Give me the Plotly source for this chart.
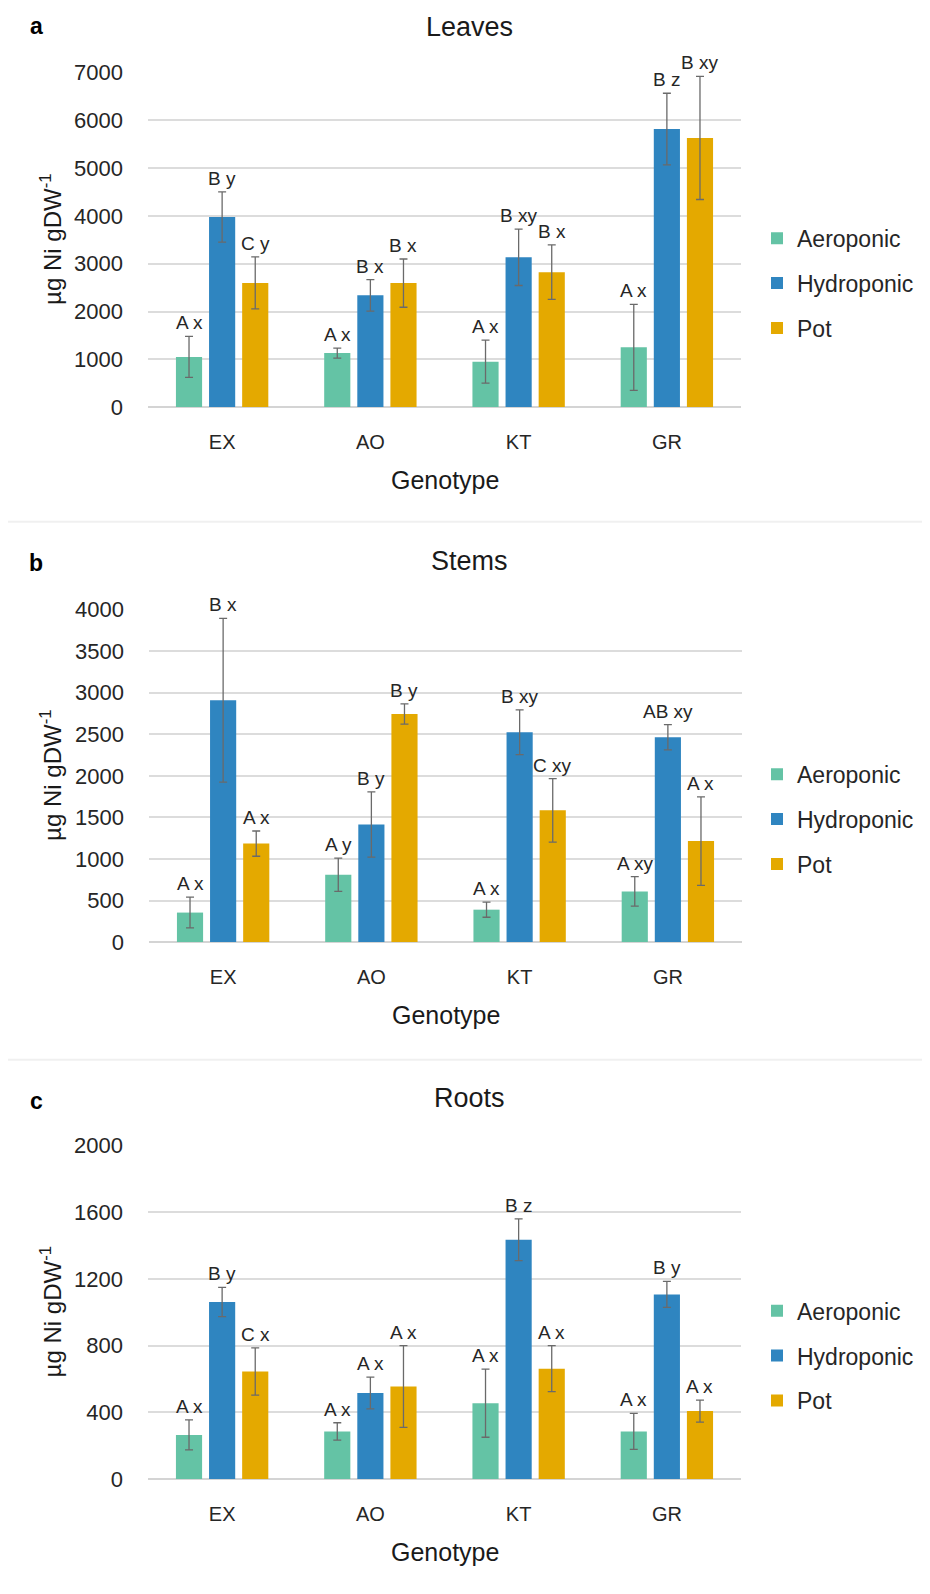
import plotly.graph_objects as go

# page is 930x1594; the html body has an 8px margin, so the figure is sized to fit inside it
PAGE_W, PAGE_H = 930, 1594
OFF_X = 8
W, H = 914, 1578
# measured vertical mapping of figure pixels onto the photographed page
Y0, YS = 18.2, 0.986

genotypes = ["EX", "AO", "KT", "GR"]
treatments = ["Aeroponic", "Hydroponic", "Pot"]
colors = ["#64c3a5", "#2f85c0", "#e4a900"]

# ---- Leaves (µg Ni gDW-1) ----
leaves_aero = [1050, 1130, 950, 1250]
leaves_aero_err = [430, 105, 450, 900]
leaves_hydro = [3980, 2340, 3135, 5820]
leaves_hydro_err = [525, 330, 590, 750]
leaves_pot = [2600, 2595, 2825, 5635]
leaves_pot_err = [545, 505, 570, 1290]
leaves_lab_aero = ["A x", "A x", "A x", "A x"]
leaves_lab_hydro = ["B y", "B x", "B xy", "B z"]
leaves_lab_pot = ["C y", "B x", "B x", "B xy"]

# ---- Stems ----
stems_aero = [355, 810, 390, 610]
stems_aero_err = [185, 200, 91, 178]
stems_hydro = [2910, 1415, 2525, 2465]
stems_hydro_err = [985, 393, 270, 152]
stems_pot = [1185, 2745, 1585, 1215]
stems_pot_err = [152, 122, 383, 533]
stems_lab_aero = ["A x", "A y", "A x", "A xy"]
stems_lab_hydro = ["B x", "B y", "B xy", "AB xy"]
stems_lab_pot = ["A x", "B y", "C xy", "A x"]

# ---- Roots ----
roots_aero = [265, 286, 455, 286]
roots_aero_err = [90, 52, 204, 108]
roots_hydro = [1062, 516, 1436, 1108]
roots_hydro_err = [88, 95, 125, 78]
roots_pot = [645, 555, 662, 408]
roots_pot_err = [142, 245, 138, 66]
roots_lab_aero = ["A x", "A x", "A x", "A x"]
roots_lab_hydro = ["B y", "A x", "B z", "B y"]
roots_lab_pot = ["C x", "A x", "A x", "A x"]

panels = [
    dict(title="Leaves", letter="a",
         vals=[leaves_aero, leaves_hydro, leaves_pot],
         errs=[leaves_aero_err, leaves_hydro_err, leaves_pot_err],
         labs=[leaves_lab_aero, leaves_lab_hydro, leaves_lab_pot],
         yrange=[0, 7000], dtick=1000,
         px_x=(148, 741), px_y=(71, 406), title_y=25, letter_y=24),
    dict(title="Stems", letter="b",
         vals=[stems_aero, stems_hydro, stems_pot],
         errs=[stems_aero_err, stems_hydro_err, stems_pot_err],
         labs=[stems_lab_aero, stems_lab_hydro, stems_lab_pot],
         yrange=[0, 4000], dtick=500,
         px_x=(149, 742), px_y=(609, 942), title_y=560, letter_y=562),
    dict(title="Roots", letter="c",
         vals=[roots_aero, roots_hydro, roots_pot],
         errs=[roots_aero_err, roots_hydro_err, roots_pot_err],
         labs=[roots_lab_aero, roots_lab_hydro, roots_lab_pot],
         yrange=[0, 2000], dtick=400,
         px_x=(148, 741), px_y=(1146, 1480), title_y=1098, letter_y=1101),
]

FONT = "Liberation Sans, Arial, sans-serif"
BARGAP = 0.33
BARGROUPGAP = 0.21


def px(x):
    return (x - OFF_X) / W


def fy(y):
    return (y - Y0) / YS


def py(y):
    return 1 - fy(y) / H


fig = go.Figure()
annotations = []
shapes = []
layout = {}

for i, p in enumerate(panels):
    n = "" if i == 0 else str(i + 1)
    xa, ya = "x" + n, "y" + n
    leg = "legend" + n
    for k, t in enumerate(treatments):
        fig.add_trace(go.Bar(
            x=genotypes, y=p["vals"][k], name=t,
            marker=dict(color=colors[k], line=dict(width=0)),
            error_y=dict(type="data", array=p["errs"][k], visible=True,
                         color="#6a6a6a", thickness=1.3, width=4),
            xaxis=xa, yaxis=ya, legend=leg, legendgroup=t + n,
            showlegend=True,
        ))
    x0, x1 = p["px_x"]
    ytop, ybot = p["px_y"]
    layout["xaxis" + n] = dict(
        domain=[px(x0), px(x1)], anchor=ya, showgrid=False, showline=False,
        zeroline=False, ticks="", tickfont=dict(family=FONT, size=20, color="#262626"),
        ticklabelstandoff=21, fixedrange=True,
    )
    layout["yaxis" + n] = dict(
        domain=[py(ybot), py(ytop)], anchor=xa, range=p["yrange"], dtick=p["dtick"],
        showgrid=True, gridcolor="#dcdcdc", gridwidth=1.5, zeroline=True,
        zerolinecolor="#d4d4d4", zerolinewidth=1.8, showline=False, ticks="",
        tickfont=dict(family=FONT, size=22, color="#262626"),
        ticklabelstandoff=24, fixedrange=True,
    )
    center = (ytop + ybot) / 2
    layout[leg] = dict(
        x=px(757), xanchor="left", y=1 - (fy(center) - 23.5) / H, yanchor="top",
        font=dict(family=FONT, size=23, color="#262626"),
        tracegroupgap=12, traceorder="grouped", bgcolor="rgba(0,0,0,0)",
    )
    # significance letters above error bars
    catw = (x1 - x0) / len(genotypes)
    slot = catw * (1 - BARGAP) / len(treatments)
    for k in range(len(treatments)):
        for j, g in enumerate(genotypes):
            annotations.append(dict(
                x=g, y=p["vals"][k][j] + p["errs"][k][j], xref=xa, yref=ya,
                text=p["labs"][k][j], showarrow=False, yanchor="bottom",
                xshift=(k - 1) * slot, yshift=1,
                font=dict(family=FONT, size=19, color="#262626"),
            ))
    # title, letter, axis titles
    annotations.append(dict(x=px(469), y=py(p["title_y"]), xref="paper", yref="paper",
                            text=p["title"], showarrow=False, xanchor="center", yanchor="middle",
                            font=dict(family=FONT, size=27, color="#1a1a1a")))
    annotations.append(dict(x=px(36), y=py(p["letter_y"]), xref="paper", yref="paper",
                            text="<b>" + p["letter"] + "</b>", showarrow=False,
                            xanchor="center", yanchor="middle",
                            font=dict(family=FONT, size=23, color="#000000")))
    annotations.append(dict(x=px(51), y=py(center), xref="paper", yref="paper",
                            text="µg Ni gDW<sup>-1</sup>", textangle=-90, showarrow=False,
                            xanchor="center", yanchor="middle",
                            font=dict(family=FONT, size=24, color="#1a1a1a")))
    annotations.append(dict(x=px((x0 + x1) / 2), y=py(ybot + 73), xref="paper", yref="paper",
                            text="Genotype", showarrow=False, xanchor="center", yanchor="middle",
                            font=dict(family=FONT, size=25, color="#1a1a1a")))

# faint panel separators
for ysep in (521, 1060):
    shapes.append(dict(type="line", xref="paper", yref="paper", x0=0, x1=1,
                       y0=py(ysep), y1=py(ysep), line=dict(color="#f0f0f0", width=2)))

fig.update_layout(
    width=W, height=H, margin=dict(l=0, r=0, t=0, b=0),
    paper_bgcolor="white", plot_bgcolor="white",
    barmode="group", bargap=BARGAP, bargroupgap=BARGROUPGAP,
    annotations=annotations, shapes=shapes,
    font=dict(family=FONT, color="#262626"),
    **layout,
)

fig.write_html("out.html")
